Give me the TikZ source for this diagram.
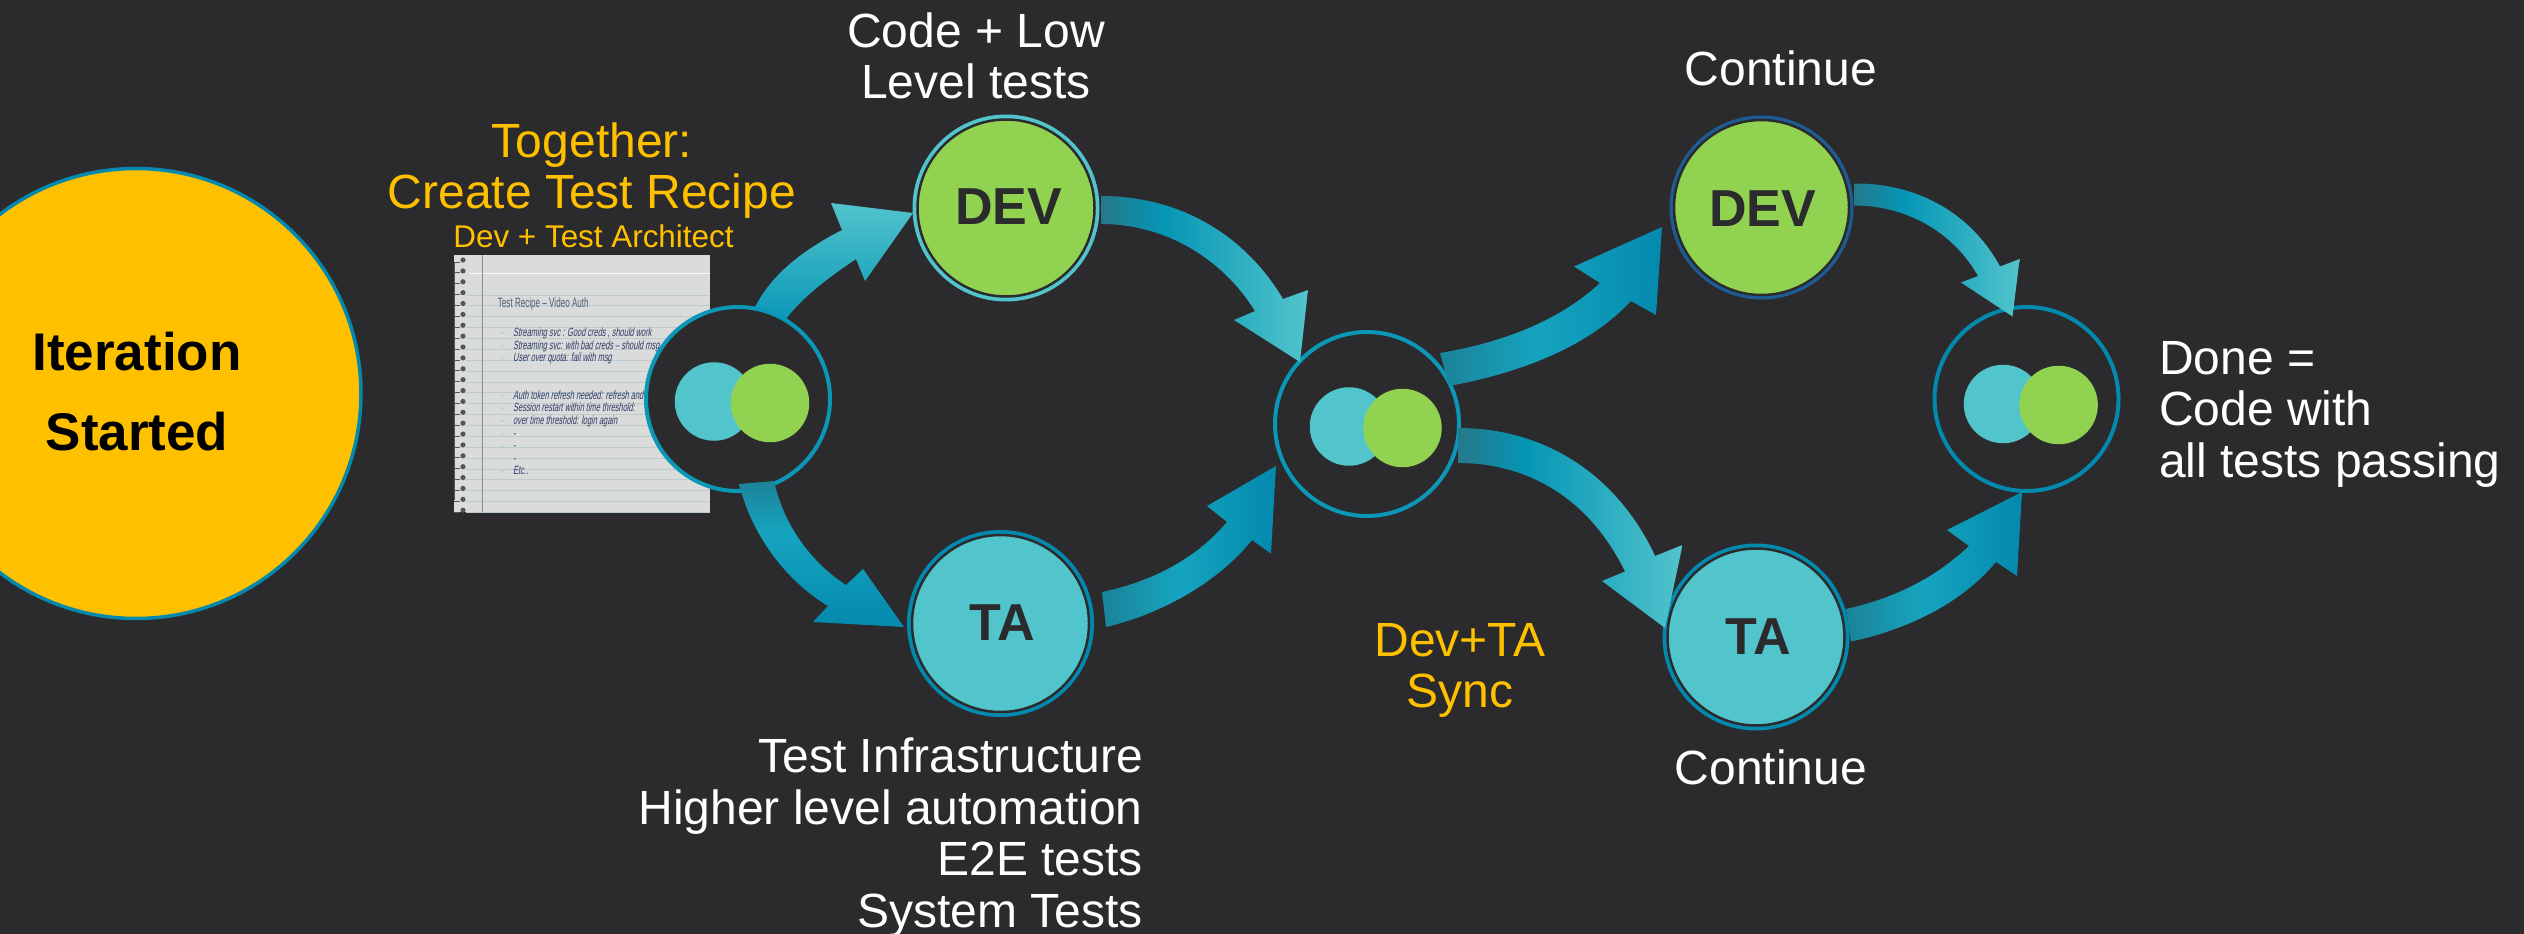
\documentclass[tikz,border=0pt]{standalone}
\usepackage{fontspec}
\setmainfont{Liberation Sans}
\newfontfamily\handfont[FakeStretch=0.62,FakeSlant=0.18]{Liberation Sans}
\newfontfamily\notetitle[FakeStretch=0.6]{Liberation Sans}
\pgfdeclarelayer{back}
\pgfsetlayers{back,main}
\definecolor{bgc}{HTML}{2B2B2D}
\definecolor{amber}{HTML}{FFC000}
\definecolor{leaf}{HTML}{92D251}
\definecolor{aqua}{HTML}{52C4CC}
\definecolor{sea}{HTML}{0B98B8}
\definecolor{deep}{HTML}{0389AE}
\definecolor{navy}{HTML}{1D5C94}
\definecolor{tailc}{HTML}{25788A}
\definecolor{tailb}{HTML}{1B8398}
\definecolor{midb}{HTML}{15A4BF}
\definecolor{midc}{HTML}{0596B5}
\definecolor{paper}{HTML}{D9DCDA}
\definecolor{rule}{HTML}{BCCCCC}
\definecolor{margin}{HTML}{8F8AA0}
\definecolor{coil}{HTML}{555555}
\definecolor{ink}{HTML}{2F3A68}
\definecolor{titleink}{HTML}{4F5F70}
\pgfdeclareverticalshading{shUp}{100bp}{color(0bp)=(sea); color(25bp)=(sea); color(75bp)=(aqua); color(100bp)=(aqua)}
\pgfdeclareverticalshading{shDown}{100bp}{color(0bp)=(deep); color(25bp)=(deep); color(57bp)=(midb); color(75bp)=(tailb); color(100bp)=(tailb)}
\pgfdeclarehorizontalshading{shToAqua}{100bp}{color(0bp)=(tailc); color(25bp)=(tailc); color(40bp)=(midc); color(75bp)=(aqua); color(100bp)=(aqua)}
\pgfdeclarehorizontalshading{shToDeep}{100bp}{color(0bp)=(tailb); color(25bp)=(tailb); color(47bp)=(midb); color(75bp)=(deep); color(100bp)=(deep)}
\tikzset{
  ringnode/.style={circle,inner sep=0pt,outer sep=0pt,draw=#1,line width=4pt,minimum size=184pt,fill=bgc},
  blob/.style={circle,inner sep=0pt,outer sep=0pt,fill=#1,minimum size=78.5pt},
  rolenode/.style n args={3}{circle,inner sep=0pt,outer sep=0pt,fill=#1,draw=bgc,line width=2.5pt,minimum size=177pt,
    preaction={draw=#2,line width=#3},font=\fontsize{52}{52}\selectfont\bfseries,text=bgc},
  whitetext/.style={text=white,font=\fontsize{48}{51.5}\selectfont,inner sep=0pt},
  ambertext/.style={text=amber,font=\fontsize{48}{51}\selectfont,inner sep=0pt},
  boldtext/.style={text=black,font=\fontsize{53}{80}\selectfont\bfseries,inner sep=0pt},
  handline/.style={text=ink,font=\handfont\fontsize{12}{12}\selectfont,inner sep=0pt,anchor=base west},
}
\newcommand{\rolelabel}[3]{\raisebox{#2}[0pt][0pt]{\hspace*{#1}#3}}
\begin{document}
\begin{tikzpicture}[x=1pt,y=-1pt]
\path[use as bounding box,clip] (0,0) rectangle (2524,934);
\begin{pgfonlayer}{back}
\fill[bgc] (0,0) rectangle (2524,934);
% notepad
\fill[paper] (453.5,255) rectangle (710,512);
\draw[white!85!paper,line width=.8pt] (470,273) -- (710,273);
\foreach \i in {0,...,20} {
  \draw[rule,line width=1pt] (466,{295+\i*10.88}) -- (710,{295+\i*10.88});
}
\draw[margin,line width=1pt] (482.3,255) -- (482.3,512);
\foreach \i in {0,...,23} {
  \draw[coil,line width=.8pt] (454,{262+\i*10.88}) -- (460,{262+\i*10.88});
  \fill[coil] (463,{260+\i*10.88}) circle (2.6pt);
}
\draw[coil,line width=.8pt] (454,262) -- (454,500);
\node[font=\notetitle\fontsize{13.5}{14}\selectfont,text=titleink,inner sep=0pt,anchor=base west] (ntitle) at (497.7,307) {Test Recipe – Video Auth};
\foreach \yy/\lbl in {336/{Streaming svc :  Good creds , should work},349/{Streaming svc:  with bad creds – should msg},361.5/{User over quota:   fail with msg},399/{Auth token refresh needed:   refresh and},411.5/{Session restart within time threshold:},424/{over time threshold:   login again},437/{-},449.5/{-},462/{-},474.5/{Etc..}} {
  \node[handline] at (513,\yy) {\lbl};
  \fill[rule] (502,\yy-3) circle (1.3pt);
}
\end{pgfonlayer}

\node[circle,inner sep=0pt,outer sep=0pt,fill=amber,draw=deep,line width=3.5pt,minimum size=450pt] (start) at (136,393.5) {};
\node[boldtext,anchor=base] (t1) at (137,370) {Iteration};
\node[boldtext,anchor=base] (t2) at (137,450) {Started};

\node[ringnode=sea] (c1) at (738,399) {};
\node[blob=aqua] (c1a) at (714,401.5) {};
\node[blob=leaf] (c1b) at (770,403) {};
\node[ringnode=sea] (c2) at (1367,424) {};
\node[blob=aqua] (c2a) at (1349,426.5) {};
\node[blob=leaf] (c2b) at (1402.5,428) {};
\node[ringnode=deep] (c3) at (2026.5,399) {};
\node[blob=aqua] (c3a) at (2003,404) {};
\node[blob=leaf] (c3b) at (2058.6,405) {};

\node[rolenode={leaf}{aqua}{10pt}] (dev1) at (1006,208) {\rolelabel{5pt}{-16.4pt}{DEV}};
\node[rolenode={aqua}{deep}{10pt}] (ta1) at (1000.5,623.5) {\rolelabel{3pt}{-17.1pt}{TA}};
\node[rolenode={leaf}{navy}{9pt},minimum size=175pt] (dev2) at (1761.5,207.5) {\rolelabel{2pt}{-18.6pt}{DEV}};
\node[rolenode={aqua}{deep}{10pt}] (ta2) at (1756,637) {\rolelabel{5pt}{-17.6pt}{TA}};

\begin{pgfonlayer}{back}
% c1 -> dev1 (behind the ring of c1)
\shade[shading=shUp] ([shift={(17,-92)}]c1.center) .. controls (772,274) and (803,250) .. (842,230) -- (831,203) -- ([shift={(-93,5)}]dev1.center) -- (865,281) -- (856,259) .. controls (825,280) and (802,298) .. ([shift={(48,-80)}]c1.center) -- cycle;
\end{pgfonlayer}
% c1 -> ta1
\shade[shading=shDown] ([shift={(1,85)}]c1.center) .. controls (752,535) and (785,580) .. (828,606) -- (813,622) -- ([shift={(-96.5,3.5)}]ta1.center) -- (863,569) -- (846,585) .. controls (815,565) and (785,530) .. ([shift={(36,82)}]c1.center) -- cycle;
% dev1 -> c2
\shade[shading=shToAqua] ([shift={(95,-12)}]dev1.center) .. controls (1180,196) and (1245,235) .. (1283,299) -- (1308,290) -- ([shift={(-67,-62)}]c2.center) -- (1234,320) -- (1255,311) .. controls (1222,258) and (1165,224) .. ([shift={(95,16)}]dev1.center) -- cycle;
% ta1 -> c2
\shade[shading=shToDeep] ([shift={(101.5,-31.5)}]ta1.center) .. controls (1150,582) and (1195,560) .. (1227,522) -- (1207,506) -- ([shift={(-91,42)}]c2.center) -- (1271,553.6) -- (1252,540) .. controls (1220,580) and (1165,613) .. ([shift={(105.5,3.5)}]ta1.center) -- cycle;
% c2 -> dev2
\shade[shading=shToDeep] ([shift={(73,-71)}]c2.center) .. controls (1505,342) and (1560,320) .. (1600,283) -- (1574,266.5) -- ([shift={(-99.5,19.5)}]dev2.center) -- (1656,315) -- (1631,301) .. controls (1590,345) and (1525,372) .. ([shift={(82,-38)}]c2.center) -- cycle;
% c2 -> ta2
\shade[shading=shToAqua] ([shift={(91,4)}]c2.center) .. controls (1550,428) and (1620,480) .. (1655,556) -- (1682.5,545) -- ([shift={(-91,-9)}]ta2.center) -- (1602,581) -- (1625,571.5) .. controls (1590,500) and (1530,463) .. ([shift={(91,39)}]c2.center) -- cycle;
% dev2 -> c3
\shade[shading=shToAqua] ([shift={(92.5,-24)}]dev2.center) .. controls (1925,183) and (1975,220) .. (2000,266.5) -- (2019.6,259) -- ([shift={(-14,-82.5)}]c3.center) -- (1961,282.5) -- (1978,276) .. controls (1955,235) and (1910,205.6) .. ([shift={(92.5,-2)}]dev2.center) -- cycle;
% ta2 -> c3
\shade[shading=shToDeep] ([shift={(90,-28)}]ta2.center) .. controls (1895,598) and (1935,578) .. (1969,546) -- (1947,530) -- ([shift={(-4.5,93)}]c3.center) -- (2017,576) -- (1996,562) .. controls (1960,605) and (1905,630) .. ([shift={(95,4.5)}]ta2.center) -- cycle;

% labels
\node[whitetext,align=center,anchor=base] (codel) at (976,99) {Code + Low\\Level tests};
\node[ambertext,align=center,anchor=base] (tog) at (592,208) {Together:\\Create Test Recipe};
\node[ambertext,font=\fontsize{31.4}{36}\selectfont,anchor=base] (pair) at (593.5,247) {Dev + Test Architect};
\node[whitetext,align=right,anchor=base east] (infra) at (1143,927) {Test Infrastructure\\Higher level automation\\E2E tests\\System Tests};
\node[whitetext,anchor=base] (cont1) at (1781,85) {Continue};
\node[whitetext,anchor=base] (cont2) at (1771,784) {Continue};
\node[whitetext,align=left,anchor=base west] (done) at (2159,477) {Done =\\Code with\\all tests passing};
\node[ambertext,align=center,anchor=base] (sync) at (1460,707) {Dev+TA\\Sync};
\end{tikzpicture}
\end{document}
